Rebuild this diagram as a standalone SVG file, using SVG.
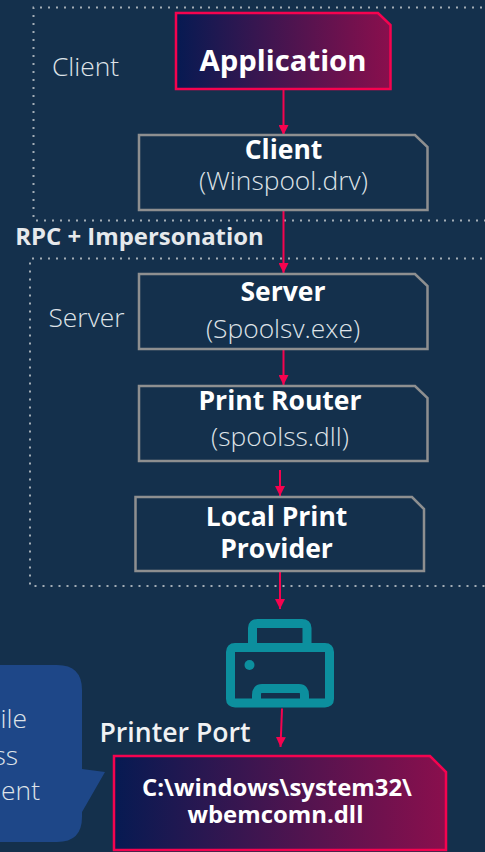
<svg xmlns="http://www.w3.org/2000/svg" width="485" height="852" viewBox="0 0 485 852">
<style>
text{font-family:"Open Sans","Noto Sans","Liberation Sans",sans-serif;text-anchor:middle}
.b{font-weight:700;fill:#fff}
.l{font-weight:300;fill:#dfe3e8}
.zone{fill:none;stroke:#a3adb6;stroke-width:2;stroke-dasharray:2 6}
.node{fill:#14304c;stroke:#8e8f90;stroke-width:2.500}
.hot{stroke:#f5034f;stroke-width:2.500}
.cx{fill:none;stroke:#f5034f;stroke-width:2}
.ptr{fill:none;stroke:#0c8f9e;stroke-width:9;stroke-linejoin:round}
</style>
<defs>
<linearGradient id="g"><stop offset="0" stop-color="#061a52"/><stop offset="1" stop-color="#8a0f4d"/></linearGradient>
<marker id="ah" markerUnits="userSpaceOnUse" markerWidth="10" markerHeight="10" refX="10" refY="5" orient="auto" viewBox="0 0 10 10"><path d="M0 0L10 5L0 10z" fill="#f5034f"/></marker>
</defs>
<rect width="485" height="852" fill="#14304c"/>
<g id="zone-client"><path class="zone" d="M490 7.500H33.500V220.500H490"/><text class="l" x="85.500" y="76" font-size="26.400">Client</text></g>
<g id="zone-server"><path class="zone" d="M490 258.500H30V586H490"/><text class="l" x="86.500" y="327" font-size="26.400">Server</text></g>
<text id="rpc-label" x="139.500" y="245" font-size="23.900" font-weight="700" fill="#e6e9ec">RPC + Impersonation</text>
<g id="connectors">
<path class="cx" marker-end="url(#ah)" d="M283.500 89V135"/>
<path class="cx" marker-end="url(#ah)" d="M283.500 210V273"/>
<path class="cx" marker-end="url(#ah)" d="M283.500 349V385"/>
<path class="cx" marker-end="url(#ah)" d="M280 470V496"/>
<path class="cx" marker-end="url(#ah)" d="M280 571V609"/>
<path class="cx" marker-end="url(#ah)" d="M282 708.500L280.500 747"/>
</g>
<g id="application"><path class="hot" fill="url(#g)" d="M176 13H378L390.500 25V89H176Z"/><text class="b" x="283" y="71" font-size="29.300">Application</text></g>
<g id="client"><path class="node" d="M139 135H415L427.500 147V210H139Z"/><text class="b" x="283.500" y="159" font-size="26.500">Client</text><text class="l" x="283.500" y="190" font-size="26.400">(Winspool.drv)</text></g>
<g id="server"><path class="node" d="M139 274H415L427.500 286V349H139Z"/><text class="b" x="283" y="301" font-size="26.500">Server</text><text class="l" x="283" y="338" font-size="26.400">(Spoolsv.exe)</text></g>
<g id="print-router"><path class="node" d="M139 386H415L427.500 398V461H139Z"/><text class="b" x="280" y="410" font-size="26.500">Print Router</text><text class="l" x="280" y="446" font-size="26.400">(spoolss.dll)</text></g>
<g id="local-print-provider"><path class="node" d="M135.500 497H412L424 509V571H135.500Z"/><text class="b" x="276.500" y="526" font-size="26.500">Local Print</text><text class="b" x="276.500" y="558" font-size="26.500">Provider</text></g>
<g id="printer"><path class="ptr" d="M252.500 646V628Q252.500 623.500 257.500 623.500H302Q307 623.500 307 628V646M235 647.500H325Q329.500 647.500 329.500 652V699Q329.500 703 325 703H235Q230.500 703 230.500 699V652Q230.500 647.500 235 647.500ZM256.500 703V695Q256.500 688.500 262 688.500H299Q304.500 688.500 304.500 695V703"/><circle cx="249.500" cy="665" r="5" fill="#0c8f9e"/></g>
<text id="printer-port-label" x="175" y="742" font-size="26.600" font-weight="600" fill="#f0f2f4">Printer Port</text>
<g id="callout"><path fill="#1e4788" d="M0 665H57Q82 665 82 690V769L105 772L82 812V817Q82 842 57 842H0Z"/><g class="l" font-size="26.400"><text x="27" y="728" style="text-anchor:end">ile</text><text x="18" y="765" style="text-anchor:end">ss</text><text x="40" y="800" style="text-anchor:end">ent</text></g></g>
<g id="wbemcomn"><path class="hot" fill="url(#g)" d="M114 756H430L446 772V850H114Z"/><text class="b" x="277" y="796" font-size="23.900">C:\windows\system32\</text><text class="b" x="275.500" y="823" font-size="23.900">wbemcomn.dll</text></g>
</svg>
